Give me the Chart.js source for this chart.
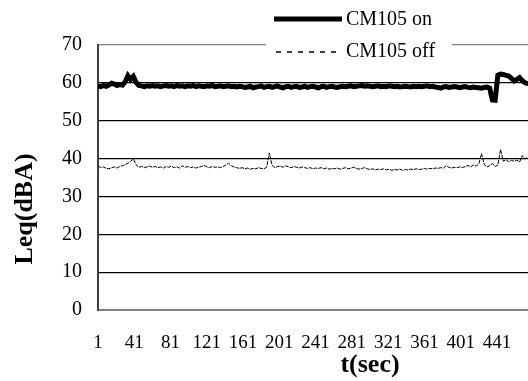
<!DOCTYPE html>
<html>
<head>
<meta charset="utf-8">
<script src="https://cdn.jsdelivr.net/npm/chart.js@4"></script>
<style>
    html, body { margin: 0; padding: 0; background: #fff; overflow: hidden; }
    #wrap { width: 660px; height: 381px; }
</style>
</head>
<body>
<div id="wrap"><canvas id="myChart" width="660" height="381"></canvas></div>
<script>
// Leq every 3 s, starting at t = 1
const timeStep = 3;
const leqOn = [
    59.2, 59.0, 59.3, 59.1, 59.4, 59.9, 59.7, 59.3, 59.6, 59.4,
    60.3, 61.9, 60.9, 61.7, 60.1, 59.3, 59.2, 59.0, 59.2, 59.1,
    59.3, 59.1, 59.2, 59.0, 59.2, 59.3, 59.1, 59.2, 59.0, 59.3,
    59.1, 59.2, 59.0, 59.2, 59.1, 59.3, 59.0, 59.2, 59.1, 59.0,
    59.2, 59.1, 59.3, 59.0, 59.1, 59.2, 59.0, 59.1, 59.2, 59.0,
    59.1, 58.9, 59.1, 59.0, 58.8, 58.9, 59.1, 58.7, 58.9, 59.0,
    59.2, 58.8, 59.0, 59.1, 58.8, 59.0, 59.2, 58.9, 58.7, 59.0,
    59.1, 58.8, 59.0, 59.1, 58.8, 58.9, 59.1, 58.8, 59.0, 59.1,
    58.9, 58.7, 59.0, 59.1, 58.8, 59.0, 59.1, 58.9, 58.8, 59.0,
    59.1, 59.0, 59.1, 59.2, 59.0, 59.1, 59.2, 59.3, 59.1, 59.2,
    59.1, 59.0, 59.1, 59.2, 59.0, 59.1, 59.0, 59.2, 59.1, 59.0,
    59.1, 58.9, 59.0, 59.1, 59.0, 58.9, 59.1, 59.0, 59.1, 59.0,
    59.1, 59.2, 59.0, 59.1, 58.9, 58.8, 58.6, 58.9, 59.0, 58.8,
    58.9, 59.0, 58.9, 58.7, 58.9, 59.0, 58.8, 58.7, 58.9, 58.8,
    58.7, 58.6, 58.8, 58.9, 58.6, 55.5, 55.4, 62.0, 62.3, 62.2,
    62.0, 61.8, 61.2, 60.5, 60.9, 61.4, 60.6, 60.0, 59.8, 59.8
];
const leqOff = [
    38.1, 37.6, 37.8, 37.4, 37.3, 37.6, 37.8, 37.5, 37.9, 38.1,
    38.4, 38.8, 39.3, 39.9, 38.4, 37.7, 37.9, 37.6, 37.8, 38.0,
    37.7, 37.9, 37.6, 37.8, 37.5, 37.9, 37.7, 38.0, 37.6, 37.8,
    37.5, 38.1, 37.7, 37.9, 37.6, 37.8, 37.5, 37.7, 37.9, 38.2,
    37.8, 37.6, 37.9, 37.7, 37.8, 37.6, 37.9, 38.3, 38.8, 38.1,
    37.8, 37.6, 37.4, 37.6, 37.3, 37.5, 37.2, 37.4, 37.3, 37.6,
    37.4, 37.3, 37.7, 41.5, 38.2, 37.6, 37.9, 38.0, 37.7, 38.1,
    37.8, 37.6, 37.9, 37.7, 37.5, 37.8, 37.6, 37.4, 37.6, 37.3,
    37.5, 37.4, 37.6, 37.3, 37.5, 37.2, 37.4, 37.3, 37.5, 37.2,
    37.4, 37.6, 37.3, 37.5, 37.7, 37.4, 37.2, 37.4, 37.6, 37.3,
    37.1, 37.3, 37.0, 37.2, 37.1, 37.3, 37.0, 37.2, 36.9, 37.1,
    37.0, 37.2, 36.9, 37.1, 37.0, 37.2, 37.1, 37.3, 37.1, 37.2,
    37.4, 37.2, 37.4, 37.3, 37.5, 37.4, 37.6, 37.5, 38.1, 37.7,
    37.5, 37.7, 37.6, 37.8, 37.6, 37.9, 38.2, 37.8, 38.3, 38.0,
    38.6, 41.3, 38.4, 37.8, 38.1, 38.7, 37.9, 38.3, 42.4, 39.3,
    39.7, 39.2, 39.5, 39.3, 39.6, 39.1, 40.8, 39.9, 40.4, 40.1
];
const xTicks = [1, 41, 81, 121, 161, 201, 241, 281, 321, 361, 401, 441];
const yTicks = [0, 10, 20, 30, 40, 50, 60, 70];

const serif = "'Liberation Serif', 'Times New Roman', serif";

function toPoints(values) {
    return values.map((v, i) => ({ x: 1 + i * timeStep, y: v }));
}

// legend box and y title, drawn over the plot top edge
const overlay = {
    id: 'overlay',
    afterDraw(chart) {
        const ctx = chart.ctx;
        ctx.save();
        ctx.fillStyle = '#fff';
        ctx.fillRect(266, 0, 186, 62);

        ctx.strokeStyle = '#000';
        ctx.lineWidth = 5;
        ctx.beginPath();
        ctx.moveTo(274, 19);
        ctx.lineTo(342, 19);
        ctx.stroke();

        ctx.lineWidth = 1.5;
        ctx.setLineDash([5, 6]);
        ctx.beginPath();
        ctx.moveTo(276, 52);
        ctx.lineTo(340, 52);
        ctx.stroke();
        ctx.setLineDash([]);

        ctx.fillStyle = '#000';
        ctx.font = '20px ' + serif;
        ctx.textBaseline = 'middle';
        ctx.textAlign = 'left';
        ctx.fillText('CM105 on', 346, 20);
        ctx.fillText('CM105 off', 346, 52);

        ctx.translate(25, 209);
        ctx.rotate(-Math.PI / 2);
        ctx.textAlign = 'center';
        ctx.font = 'bold 26px ' + serif;
        ctx.fillText('Leq(dBA)', 0, 0);
        ctx.restore();
    }
};

document.addEventListener("DOMContentLoaded", function () {
    const ctx = document.getElementById('myChart').getContext('2d');

    new Chart(ctx, {
        type: 'line',
        data: {
            datasets: [{
                label: 'CM105 on',
                data: toPoints(leqOn),
                borderColor: '#000',
                borderWidth: 5,
                pointRadius: 0,
                tension: 0
            }, {
                label: 'CM105 off',
                data: toPoints(leqOff),
                borderColor: '#000',
                borderWidth: 1,
                borderDash: [4, 1],
                pointRadius: 0,
                tension: 0
            }]
        },
        options: {
            responsive: false,
            animation: false,
            layout: { padding: { top: 45, right: 18, left: 0, bottom: 0 } },
            plugins: {
                legend: { display: false },
                tooltip: { enabled: false }
            },
            scales: {
                x: {
                    type: 'linear',
                    min: 1,
                    max: 601,
                    afterBuildTicks: s => { s.ticks = xTicks.map(v => ({ value: v })); },
                    afterFit: s => { s.height = 71; },
                    grid: { display: false, drawTicks: false },
                    border: { color: '#808080', width: 2 },
                    ticks: {
                        color: '#000',
                        padding: 22,
                        maxRotation: 0,
                        autoSkip: false,
                        font: { family: serif, size: 19 }
                    },
                    title: {
                        display: true,
                        text: 't(sec)',
                        color: '#000',
                        padding: { top: 0, bottom: 0 },
                        font: { family: serif, size: 26, weight: 'bold' }
                    }
                },
                y: {
                    min: 0,
                    max: 70,
                    afterBuildTicks: s => { s.ticks = yTicks.map(v => ({ value: v })); },
                    afterFit: s => { s.width = 98; },
                    grid: {
                        drawTicks: false,
                        color: c => (c.tick.value === 0 || c.tick.value === 70) ? '#808080' : '#000',
                        lineWidth: c => c.tick.value === 0 ? 2 : 1.2
                    },
                    border: { color: '#404040', width: 2 },
                    ticks: {
                        color: '#000',
                        padding: 16,
                        font: { family: serif, size: 20 }
                    }
                }
            }
        },
        plugins: [overlay]
    });
});
</script>
</body>
</html>
